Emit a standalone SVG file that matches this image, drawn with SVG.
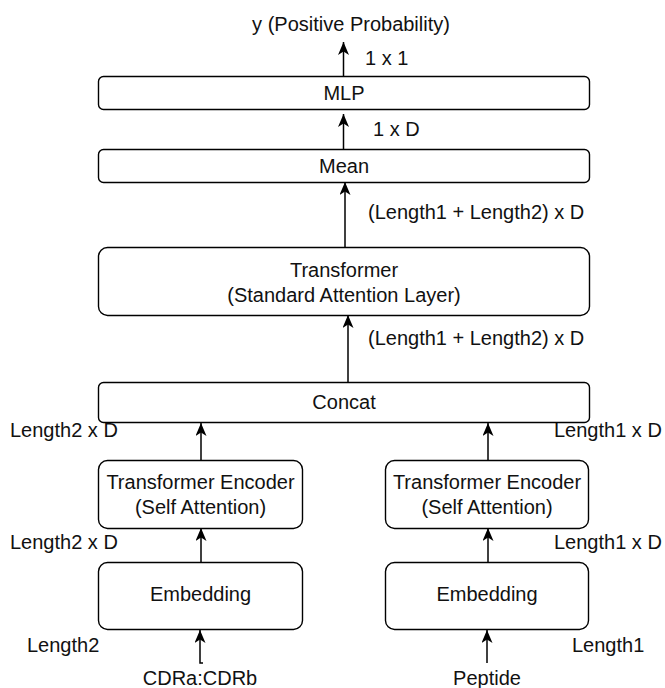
<svg xmlns="http://www.w3.org/2000/svg" width="665" height="688" viewBox="0 0 665 688">
<defs>
<style>
.box{fill:#fff;stroke:#000;stroke-width:1.4}
.t{font-family:"Liberation Sans",Arial,Helvetica,sans-serif;font-size:20px;fill:#111}
.c{text-anchor:middle}
.e{fill:none;stroke:#000;stroke-width:1.5}
</style>
<marker id="arr" markerUnits="userSpaceOnUse" markerWidth="14" markerHeight="12" refX="13" refY="5.5" orient="auto">
<path d="M0,0 L13,5.5 L0,11 L3.5,5.5 Z" fill="#000"/>
</marker>
</defs>
<rect width="665" height="688" fill="#fff"/>
<g id="connectors">
<line class="e" x1="343.5" y1="76" x2="343.5" y2="42" marker-end="url(#arr)"/>
<line class="e" x1="343.5" y1="149" x2="343.5" y2="114" marker-end="url(#arr)"/>
<line class="e" x1="345" y1="247" x2="345" y2="182" marker-end="url(#arr)"/>
<line class="e" x1="348" y1="382" x2="348" y2="315" marker-end="url(#arr)"/>
<line class="e" x1="201" y1="460" x2="201" y2="423" marker-end="url(#arr)"/>
<line class="e" x1="488" y1="460" x2="488" y2="423" marker-end="url(#arr)"/>
<line class="e" x1="201" y1="562" x2="201" y2="528" marker-end="url(#arr)"/>
<line class="e" x1="488" y1="562" x2="488" y2="528" marker-end="url(#arr)"/>
<path class="e" d="M203,663 L200,663 L200,630" marker-end="url(#arr)"/>
<line class="e" x1="487" y1="663" x2="487" y2="630" marker-end="url(#arr)"/>
<text class="t" x="365" y="65">1 x 1</text>
<text class="t" x="373" y="136">1 x D</text>
<text class="t" x="368" y="219">(Length1 + Length2) x D</text>
<text class="t" x="368" y="345">(Length1 + Length2) x D</text>
<text class="t" x="10" y="437">Length2 x D</text>
<text class="t" x="554" y="437">Length1 x D</text>
<text class="t" x="10" y="549">Length2 x D</text>
<text class="t" x="554" y="549">Length1 x D</text>
<text class="t" x="27" y="652">Length2</text>
<text class="t" x="572" y="652">Length1</text>
</g>
<g id="output">
<text class="t c" x="351" y="31">y (Positive Probability)</text>
</g>
<g id="mlp">
<rect class="box" x="98.5" y="76.5" width="491" height="33" rx="5"/>
<text class="t c" x="344" y="100">MLP</text>
</g>
<g id="mean">
<rect class="box" x="98.5" y="149.5" width="491" height="33" rx="5"/>
<text class="t c" x="344" y="173">Mean</text>
</g>
<g id="transformer">
<rect class="box" x="98.5" y="247.5" width="491" height="68" rx="9"/>
<text class="t c" x="344" y="277">Transformer</text>
<text class="t c" x="344" y="302">(Standard Attention Layer)</text>
</g>
<g id="concat">
<rect class="box" x="98.5" y="382.5" width="491" height="40" rx="5"/>
<text class="t c" x="344" y="409">Concat</text>
</g>
<g id="encoder-left">
<rect class="box" x="98.5" y="460.5" width="204" height="68" rx="9"/>
<text class="t c" x="200.5" y="489">Transformer Encoder</text>
<text class="t c" x="200.5" y="514">(Self Attention)</text>
</g>
<g id="encoder-right">
<rect class="box" x="385.5" y="460.5" width="203" height="68" rx="9"/>
<text class="t c" x="487" y="489">Transformer Encoder</text>
<text class="t c" x="487" y="514">(Self Attention)</text>
</g>
<g id="embedding-left">
<rect class="box" x="98.5" y="562.5" width="204" height="67" rx="9"/>
<text class="t c" x="200.5" y="601">Embedding</text>
</g>
<g id="embedding-right">
<rect class="box" x="385.5" y="562.5" width="203" height="67" rx="9"/>
<text class="t c" x="487" y="601">Embedding</text>
</g>
<g id="inputs">
<text class="t c" x="200" y="685">CDRa:CDRb</text>
<text class="t c" x="487" y="685">Peptide</text>
</g>
</svg>
